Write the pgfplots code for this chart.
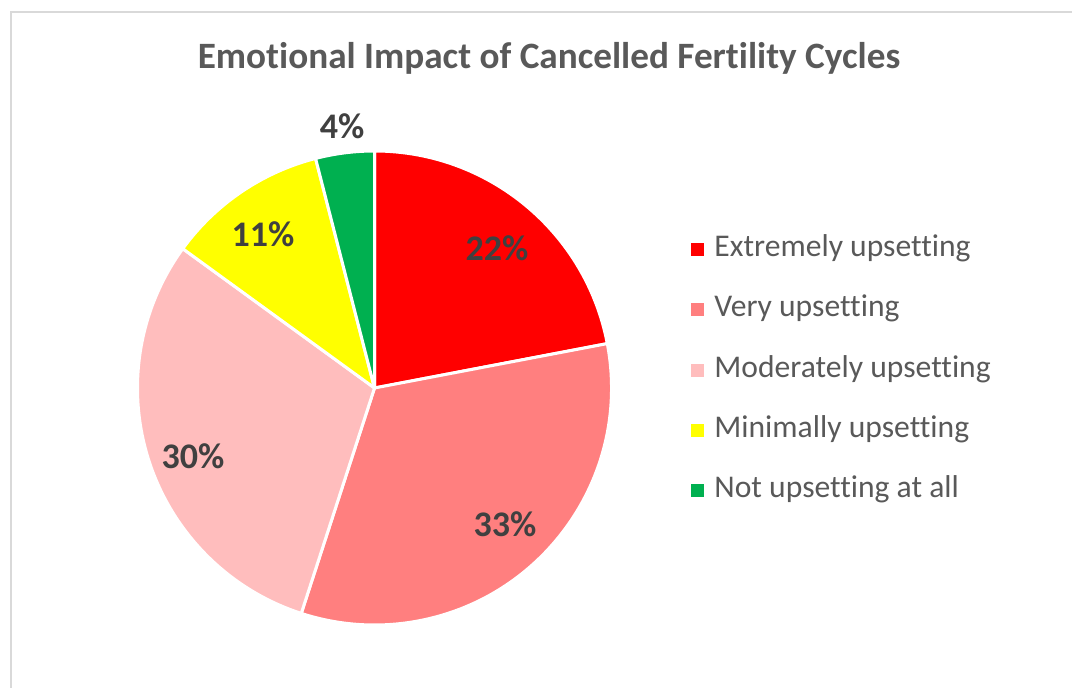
\documentclass[border=0pt]{standalone}
\usepackage{pgfplots}
\pgfplotsset{compat=1.18}
\usepackage{pgfplotstable}
\usepackage{fontspec}
\setmainfont{Carlito}[Ligatures={NoCommon}]
\definecolor{pie0}{HTML}{FF0000}
\definecolor{pie1}{HTML}{FF7F7F}
\definecolor{pie2}{HTML}{FFBDBD}
\definecolor{pie3}{HTML}{FFFF00}
\definecolor{pie4}{HTML}{00B050}
\definecolor{txt}{HTML}{595959}
\definecolor{lbl}{HTML}{404040}
\definecolor{framec}{HTML}{D9D9D9}
\newcommand\lblfont{\bfseries\fontsize{18}{20}\selectfont}

% value (%), label position (px, y from bottom)
\pgfplotstableread{
value labx laby
22 497 439
33 505 163
30 193 231
11 263 453
4 342 561
}\piedata

\begin{document}
\begin{tikzpicture}
\useasboundingbox (0,0) rectangle (536pt,343.5pt);
\begin{axis}[
  at={(0,0)}, anchor=south west,
  scale only axis, width=536pt, height=343.5pt,
  xmin=0, xmax=1072, ymin=0, ymax=687,
  hide axis, clip=false,
  legend image code/.code={\fill[#1, draw=none] (0pt,-3.25pt) rectangle (6.5pt,3.25pt);},
  legend cell align=left,
  legend style={at={(axis cs:691,317)}, anchor=west, draw=none, fill=none,
    inner sep=0pt, row sep=17.15pt,
    font=\fontsize{15.8}{18}\selectfont, text=txt,
    nodes={inner ysep=0pt, inner xsep=5pt, text height=10pt, text depth=3pt}},
]
\draw[framec, line width=1pt] (axis cs:11,-5) -- (axis cs:11,675) -- (axis cs:1080,675);
\node[font=\bfseries\fontsize{18.6}{20}\selectfont, text=txt] at (axis cs:549,629) {Emotional Impact of Cancelled Fertility Cycles};
\def\cum{0}
\pgfplotsforeachungrouped \i in {0,...,4}{%
  \pgfplotstablegetelem{\i}{value}\of\piedata \let\v\pgfplotsretval
  \pgfplotstablegetelem{\i}{labx}\of\piedata \let\lx\pgfplotsretval
  \pgfplotstablegetelem{\i}{laby}\of\piedata \let\ly\pgfplotsretval
  \pgfmathsetmacro\aS{90-3.6*\cum}%
  \pgfmathsetmacro\aE{90-3.6*(\cum+\v)}%
  \pgfmathsetmacro\cum{\cum+\v}%
  \edef\temp{%
    \noexpand\filldraw[fill=pie\i, draw=white, line width=1.5pt, line join=round]
      (axis cs:374.5,299) -- ++(\aS:118.5pt) arc[start angle=\aS, end angle=\aE, radius=118.5pt] -- cycle;
    \noexpand\node[font=\noexpand\lblfont, text=lbl]
      at (axis cs:\lx,\ly) {\v\noexpand\%};
  }%
  \temp
}
\addlegendimage{fill=pie0}\addlegendentry{Extremely upsetting}
\addlegendimage{fill=pie1}\addlegendentry{Very upsetting}
\addlegendimage{fill=pie2}\addlegendentry{Moderately upsetting}
\addlegendimage{fill=pie3}\addlegendentry{Minimally upsetting}
\addlegendimage{fill=pie4}\addlegendentry{Not upsetting at all}
\end{axis}
\end{tikzpicture}
\end{document}
